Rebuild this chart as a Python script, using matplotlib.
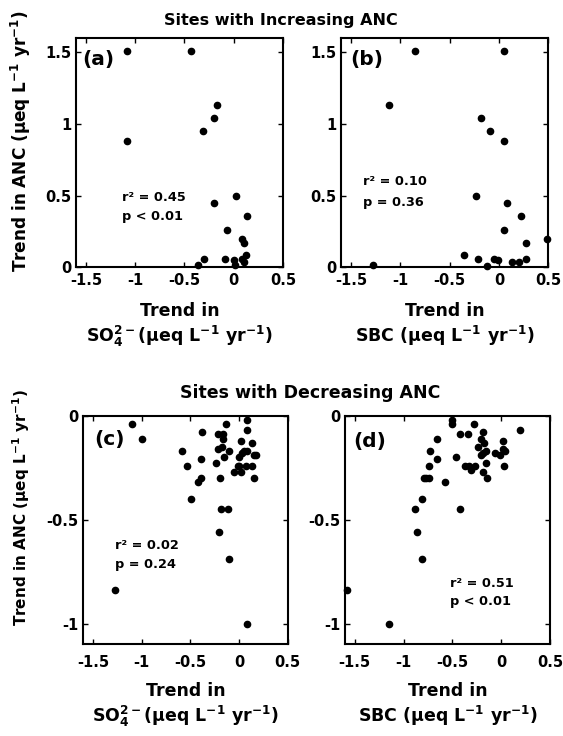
import matplotlib
matplotlib.use("Agg")
from matplotlib import pyplot as plt

plt.rcParams['font.family'] = ['DejaVu Sans']
plt.rcParams['font.weight'] = 'bold'
plt.rcParams['mathtext.fontset'] = 'dejavusans'
plt.rcParams['mathtext.default'] = 'bf'

# (a) increasing ANC vs SO4 trend
so4_inc = [-1.08, -0.43, -0.17, -0.20, -0.31, -1.08, 0.02, -0.20, 0.13, -0.07,
           0.08, 0.10, 0.12, -0.09, 0.00, 0.01, 0.08, 0.10, -0.30, -0.36]
anc_inc_a = [1.51, 1.51, 1.13, 1.04, 0.95, 0.88, 0.50, 0.45, 0.36, 0.26,
             0.20, 0.17, 0.09, 0.06, 0.05, 0.02, 0.06, 0.04, 0.06, 0.02]

# (b) increasing ANC vs SBC trend
sbc_inc = [-1.28, -1.11, -0.85, 0.05, -0.18, -0.09, 0.05, -0.23, 0.08, 0.22,
           0.05, 0.27, -0.36, -0.21, -0.12, -0.05, -0.01, 0.13, 0.20, 0.27, 0.49]
anc_inc_b = [0.02, 1.13, 1.51, 1.51, 1.04, 0.95, 0.88, 0.50, 0.45, 0.36,
             0.26, 0.17, 0.09, 0.06, 0.01, 0.06, 0.05, 0.04, 0.04, 0.06, 0.20]

# (c) decreasing ANC vs SO4 trend
so4_dec = [-1.10, -1.00, -1.28, -0.59, -0.54, -0.38, -0.39, -0.39, -0.42, -0.49,
           -0.22, -0.22, -0.17, -0.16, -0.16, -0.13, -0.15, -0.10, -0.24, -0.20,
           -0.19, -0.11, -0.21, -0.10, 0.08, 0.08, 0.08, 0.02, -0.05, 0.00,
           0.00, 0.02, 0.03, 0.05, 0.08, 0.07, 0.13, 0.15, 0.17, 0.13, 0.15, -0.01]
anc_dec_c = [-0.04, -0.11, -0.84, -0.17, -0.24, -0.08, -0.21, -0.30, -0.32, -0.40,
             -0.09, -0.16, -0.15, -0.09, -0.11, -0.04, -0.20, -0.17, -0.23, -0.30,
             -0.45, -0.45, -0.56, -0.69, -1.00, -0.02, -0.07, -0.12, -0.27, -0.20,
             -0.24, -0.27, -0.18, -0.17, -0.17, -0.24, -0.13, -0.19, -0.19, -0.24, -0.30, -0.24]

# (d) decreasing ANC vs SBC trend
sbc_dec = [-1.58, -1.15, -0.88, -0.86, -0.81, -0.81, -0.79, -0.77, -0.74, -0.74,
           -0.73, -0.66, -0.66, -0.58, -0.50, -0.50, -0.46, -0.42, -0.42, -0.37,
           -0.34, -0.33, -0.31, -0.28, -0.27, -0.24, -0.21, -0.19, -0.18, -0.21,
           -0.19, -0.16, -0.16, -0.19, -0.15, -0.06, -0.01, 0.02, 0.02, 0.04, 0.03, 0.19]
anc_dec_d = [-0.84, -1.00, -0.45, -0.56, -0.69, -0.40, -0.30, -0.30, -0.30, -0.24,
             -0.17, -0.11, -0.21, -0.32, -0.04, -0.02, -0.20, -0.45, -0.09, -0.24,
             -0.09, -0.24, -0.26, -0.04, -0.24, -0.15, -0.11, -0.08, -0.13, -0.19,
             -0.18, -0.17, -0.23, -0.27, -0.30, -0.18, -0.19, -0.12, -0.16, -0.17, -0.24, -0.07]

x_ticks = [-1.5, -1, -0.5, 0, 0.5]
x_ticklabels = ['-1.5', '-1', '-0.5', '0', '0.5']
y_ticks_top = [0, 0.5, 1, 1.5]
y_ticklabels_top = ['0', '0.5', '1', '1.5']
y_ticks_bot = [-1, -0.5, 0]
y_ticklabels_bot = ['-1', '-0.5', '0']

stats = [('r\u00b2 = 0.45', 'p < 0.01'), ('r\u00b2 = 0.10', 'p = 0.36'),
         ('r\u00b2 = 0.02', 'p = 0.24'), ('r\u00b2 = 0.51', 'p < 0.01')]

fig = plt.figure(figsize=(5.63, 7.36), dpi=100)

rects = [[0.135, 0.6366, 0.3677, 0.3118], [0.6057, 0.6366, 0.3685, 0.3118],
         [0.1483, 0.1246, 0.3625, 0.3106], [0.6128, 0.1246, 0.3641, 0.3106]]
xs = [so4_inc, sbc_inc, so4_dec, sbc_dec]
ys = [anc_inc_a, anc_inc_b, anc_dec_c, anc_dec_d]
tags = ['(a)', '(b)', '(c)', '(d)']
tag_pos = [(0.032, 0.908), (0.043, 0.907), (0.053, 0.894), (0.04, 0.886)]
stat_pos = [(0.222, 0.307, 0.224), (0.106, 0.374, 0.285),
            (0.154, 0.431, 0.35), (0.512, 0.267, 0.186)]

for i in range(4):
    ax = fig.add_axes(rects[i])
    ax.plot(xs[i], ys[i], 'o', color='black', ms=4.5, clip_on=False)
    ax.set_xlim(-1.6, 0.5)
    ax.set_xticks(x_ticks)
    ax.set_xticklabels(x_ticklabels)
    if i < 2:
        ax.set_ylim(0, 1.6)
        ax.set_yticks(y_ticks_top)
        ax.set_yticklabels(y_ticklabels_top)
        xpad = 4
    else:
        ax.set_ylim(-1.1, 0)
        ax.set_yticks(y_ticks_bot)
        ax.set_yticklabels(y_ticklabels_bot)
        xpad = 7.5
    ax.tick_params(direction='in', top=True, right=True, length=3.5, width=1,
                   labelsize=10.5)
    ax.tick_params(axis='x', pad=xpad)
    ax.tick_params(axis='y', pad=3.5)
    for lab in ax.get_xticklabels() + ax.get_yticklabels():
        lab.set_fontweight('bold')
    for sp in ax.spines.values():
        sp.set_linewidth(1.5)
    ax.text(tag_pos[i][0], tag_pos[i][1], tags[i], transform=ax.transAxes,
            fontsize=14.5, fontweight='bold', ha='left', va='center')
    sx, sy1, sy2 = stat_pos[i]
    ax.text(sx, sy1, stats[i][0], transform=ax.transAxes, fontsize=9.3,
            fontweight='bold', ha='left', va='center')
    ax.text(sx, sy2, stats[i][1], transform=ax.transAxes, fontsize=9.3,
            fontweight='bold', ha='left', va='center')

# titles
fig.text(0.499, 0.9715, 'Sites with Increasing ANC', ha='center', va='center',
         fontsize=11.5, fontweight='bold')
fig.text(0.551, 0.4654, 'Sites with Decreasing ANC', ha='center', va='center',
         fontsize=12.5, fontweight='bold')

# y labels
ylab = 'Trend in ANC (\u03bceq L$^{-1}$ yr$^{-1}$)'
fig.text(0.0373, 0.8077, ylab, rotation=90, ha='center', va='center',
         fontsize=12.2, fontweight='bold')
fig.text(0.0373, 0.31, ylab, rotation=90, ha='center', va='center',
         fontsize=11, fontweight='bold')

# x labels
so4_lab = 'SO$_4^{2-}$(\u03bceq L$^{-1}$ yr$^{-1}$)'
sbc_lab = 'SBC (\u03bceq L$^{-1}$ yr$^{-1}$)'
for xc, yb1, yb2, lab in [(0.3188, 0.571, 0.5357, so4_lab),
                          (0.790, 0.571, 0.5357, sbc_lab),
                          (0.3295, 0.0543, 0.019, so4_lab),
                          (0.7948, 0.0543, 0.019, sbc_lab)]:
    fig.text(xc, yb1, 'Trend in', ha='center', va='baseline',
             fontsize=12.5, fontweight='bold')
    fig.text(xc, yb2, lab, ha='center', va='baseline',
             fontsize=12.5, fontweight='bold')

plt.savefig('out.png', dpi=100)
